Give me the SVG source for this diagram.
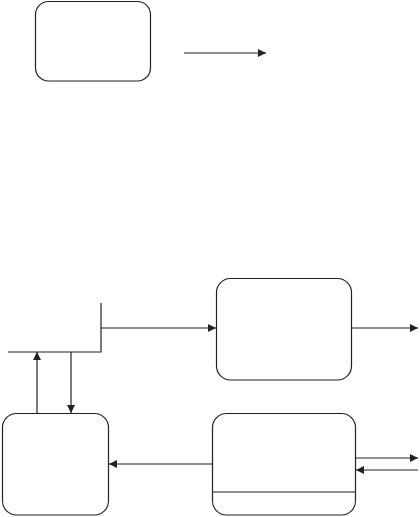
<svg xmlns="http://www.w3.org/2000/svg" width="420" height="517" viewBox="0 0 420 517">
<style>
.n{fill:#fff;stroke:#222;stroke-width:1.2}
.c{fill:none;stroke:#222;stroke-width:1.2}
</style>
<defs>
<marker id="a" viewBox="0 0 10 10" refX="10" refY="5" markerWidth="8" markerHeight="8" markerUnits="userSpaceOnUse" orient="auto"><path d="M0,0L10,5L0,10z" fill="#222"/></marker>
</defs>
<rect width="420" height="517" fill="#fff"/>
<g id="box1"><rect class="n" x="35.5" y="1.5" width="115" height="79.5" rx="13"/></g>
<g id="box2"><rect class="n" x="216.5" y="278.5" width="135" height="101.5" rx="14"/></g>
<g id="box3"><rect class="n" x="2.5" y="413.5" width="106" height="101.5" rx="14"/></g>
<g id="box4"><rect class="n" x="212.5" y="413.5" width="143" height="101.5" rx="14"/><line class="c" x1="212.5" y1="492" x2="355.5" y2="492"/></g>
<g id="connectors">
<line class="c" x1="184" y1="53" x2="266" y2="53" marker-end="url(#a)"/>
<polyline class="c" points="101,303 101,352 8,352"/>
<line class="c" x1="101" y1="328" x2="216" y2="328" marker-end="url(#a)"/>
<line class="c" x1="351.5" y1="328" x2="418" y2="328" marker-end="url(#a)"/>
<line class="c" x1="37" y1="413.5" x2="37" y2="352" marker-end="url(#a)"/>
<line class="c" x1="71" y1="352" x2="71" y2="413" marker-end="url(#a)"/>
<line class="c" x1="212.5" y1="464" x2="109" y2="464" marker-end="url(#a)"/>
<line class="c" x1="355.5" y1="458" x2="418" y2="458" marker-end="url(#a)"/>
<line class="c" x1="418" y1="470" x2="356" y2="470" marker-end="url(#a)"/>
</g>
</svg>
